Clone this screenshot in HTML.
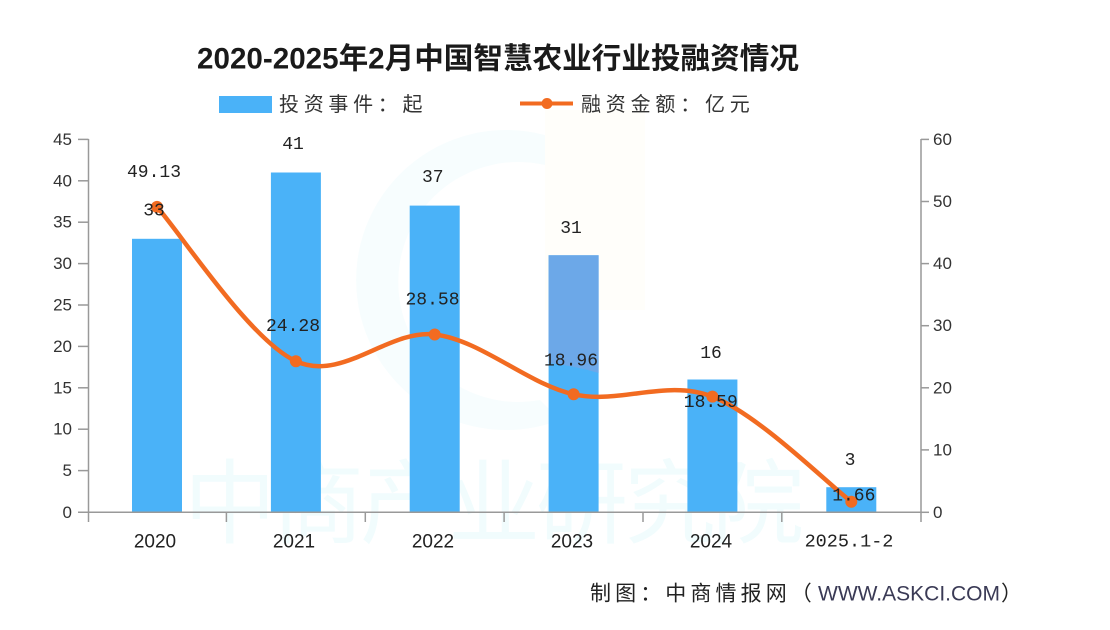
<!DOCTYPE html>
<html>
<head>
<meta charset="utf-8">
<style>
  html,body{margin:0;padding:0;background:#fff;}
  svg{display:block;}
  .cjk{font-family:"Liberation Sans","Noto Sans CJK SC",sans-serif;}
  .num{font-family:"Liberation Sans",sans-serif;}
  .mono{font-family:"Liberation Mono",monospace;}
</style>
</head>
<body>
<svg width="1110" height="630" viewBox="0 0 1110 630" xmlns="http://www.w3.org/2000/svg">
  <rect x="0" y="0" width="1110" height="630" fill="#ffffff"/>

  <!-- faint watermark -->
  <path d="M560,140 A150,150 0 1 0 560,420 L540,400 A120,120 0 1 1 545,165 Z" fill="#f7fdfe"/>
  <rect x="545" y="110" width="100" height="200" fill="#fffefa"/>
  <text x="492" y="505" text-anchor="middle" dominant-baseline="central" class="cjk" font-size="92" letter-spacing="-4" fill="#f1fcfd">中商产业研究院</text>

  <!-- title -->
  <text x="498" y="59" text-anchor="middle" dominant-baseline="central" class="cjk" font-size="29.6" font-weight="bold" fill="#1a1a1a">2020-2025年2月中国智慧农业行业投融资情况</text>

  <!-- legend -->
  <rect x="219" y="96" width="53" height="17" fill="#4ab2f8"/>
  <text x="279" y="105" dominant-baseline="central" class="cjk" font-size="20" letter-spacing="4.7" fill="#333">投资事件：起</text>
  <line x1="520" y1="103.5" x2="573" y2="103.5" stroke="#f26b21" stroke-width="4"/>
  <circle cx="547" cy="103.5" r="5.5" fill="#f26b21"/>
  <text x="581" y="105" dominant-baseline="central" class="cjk" font-size="20" letter-spacing="4.8" fill="#333">融资金额：亿元</text>

  <!-- bars -->
  <g fill="#4ab2f8">
    <rect x="132" y="238.8" width="50" height="273.2"/>
    <rect x="270.9" y="172.5" width="50" height="339.5"/>
    <rect x="409.7" y="205.6" width="50" height="306.4"/>
    <rect x="548.6" y="255.3" width="50" height="256.7"/>
    <rect x="687.4" y="379.5" width="50" height="132.5"/>
    <rect x="826.3" y="487.2" width="50" height="24.8"/>
  </g>
  <path d="M548.6,255.3 H598.6 V373 Q575,366 548.6,363 Z" fill="#6ca8e8"/>

  <!-- axes -->
  <g stroke="#999" stroke-width="1.5" fill="none">
    <line x1="88.5" y1="139" x2="88.5" y2="522"/>
    <line x1="921" y1="139" x2="921" y2="522"/>
    <line x1="78" y1="512.3" x2="921" y2="512.3"/>
    <line x1="78" y1="139.4" x2="88.5" y2="139.4"/>
    <line x1="78" y1="180.8" x2="88.5" y2="180.8"/>
    <line x1="78" y1="222.2" x2="88.5" y2="222.2"/>
    <line x1="78" y1="263.6" x2="88.5" y2="263.6"/>
    <line x1="78" y1="305.0" x2="88.5" y2="305.0"/>
    <line x1="78" y1="346.4" x2="88.5" y2="346.4"/>
    <line x1="78" y1="387.8" x2="88.5" y2="387.8"/>
    <line x1="78" y1="429.2" x2="88.5" y2="429.2"/>
    <line x1="78" y1="470.6" x2="88.5" y2="470.6"/>
    <line x1="921" y1="139.4" x2="929" y2="139.4"/>
    <line x1="921" y1="201.5" x2="929" y2="201.5"/>
    <line x1="921" y1="263.6" x2="929" y2="263.6"/>
    <line x1="921" y1="325.7" x2="929" y2="325.7"/>
    <line x1="921" y1="387.8" x2="929" y2="387.8"/>
    <line x1="921" y1="449.9" x2="929" y2="449.9"/>
    <line x1="921" y1="512.3" x2="929" y2="512.3"/>
    <line x1="226.4" y1="512" x2="226.4" y2="522"/>
    <line x1="365.3" y1="512" x2="365.3" y2="522"/>
    <line x1="504.1" y1="512" x2="504.1" y2="522"/>
    <line x1="643" y1="512" x2="643" y2="522"/>
    <line x1="781.8" y1="512" x2="781.8" y2="522"/>
  </g>

  <!-- left tick labels -->
  <g class="num" font-size="17" fill="#333" text-anchor="end" dominant-baseline="central">
    <text x="72" y="139.4">45</text>
    <text x="72" y="180.8">40</text>
    <text x="72" y="222.2">35</text>
    <text x="72" y="263.6">30</text>
    <text x="72" y="305.0">25</text>
    <text x="72" y="346.4">20</text>
    <text x="72" y="387.8">15</text>
    <text x="72" y="429.2">10</text>
    <text x="72" y="470.6">5</text>
    <text x="72" y="512.3">0</text>
  </g>
  <!-- right tick labels -->
  <g class="num" font-size="17" fill="#333" dominant-baseline="central">
    <text x="933" y="139.4">60</text>
    <text x="933" y="201.5">50</text>
    <text x="933" y="263.6">40</text>
    <text x="933" y="325.7">30</text>
    <text x="933" y="387.8">20</text>
    <text x="933" y="449.9">10</text>
    <text x="933" y="512.3">0</text>
  </g>

  <!-- x labels -->
  <g class="num" font-size="19" fill="#222" text-anchor="middle" dominant-baseline="central">
    <text x="155" y="542">2020</text>
    <text x="294" y="542">2021</text>
    <text x="433" y="542">2022</text>
    <text x="572" y="542">2023</text>
    <text x="711" y="542">2024</text>
  </g>
  <text x="849" y="542" class="mono" font-size="18.5" fill="#222" text-anchor="middle" dominant-baseline="central">2025.1-2</text>

  <!-- line -->
  <path d="M157,206.9 C180.1,232.6 249.6,339.9 295.9,361.2 C342.2,382.5 388.4,329.0 434.7,334.5 C481.0,340.0 527.3,383.9 573.6,394.3 C619.9,404.65 666.1,378.7 712.4,396.6 C758.7,414.5 828.2,484.2 851.3,501.7"
        fill="none" stroke="#f26b21" stroke-width="4.5" stroke-linecap="round" stroke-linejoin="round"/>
  <g fill="#f26b21">
    <circle cx="157" cy="206.9" r="6"/>
    <circle cx="295.9" cy="361.2" r="6"/>
    <circle cx="434.7" cy="334.5" r="6"/>
    <circle cx="573.6" cy="394.3" r="6"/>
    <circle cx="712.4" cy="396.6" r="6"/>
    <circle cx="851.3" cy="501.7" r="6"/>
  </g>

  <!-- data labels -->
  <g class="mono" font-size="18" fill="#222" text-anchor="middle" dominant-baseline="central">
    <text x="154" y="211.7">33</text>
    <text x="293" y="145">41</text>
    <text x="432.8" y="178">37</text>
    <text x="571" y="229">31</text>
    <text x="711" y="354">16</text>
    <text x="850" y="461">3</text>

    <text x="154" y="173">49.13</text>
    <text x="293" y="327">24.28</text>
    <text x="432.5" y="300.7">28.58</text>
    <text x="571" y="361.7">18.96</text>
    <text x="710.8" y="403">18.59</text>
    <text x="853.8" y="496.7">1.66</text>
  </g>

  <!-- source -->
  <text x="590" y="594" dominant-baseline="central" class="cjk" font-size="21" letter-spacing="4.1" fill="#222">制图：中商情报网（</text>
  <text x="818" y="594" dominant-baseline="central" class="num" font-size="21" fill="#3a3a55">WWW.ASKCI.COM</text>
  <text x="1001" y="594" dominant-baseline="central" class="cjk" font-size="21" fill="#222">）</text>
</svg>
</body>
</html>
